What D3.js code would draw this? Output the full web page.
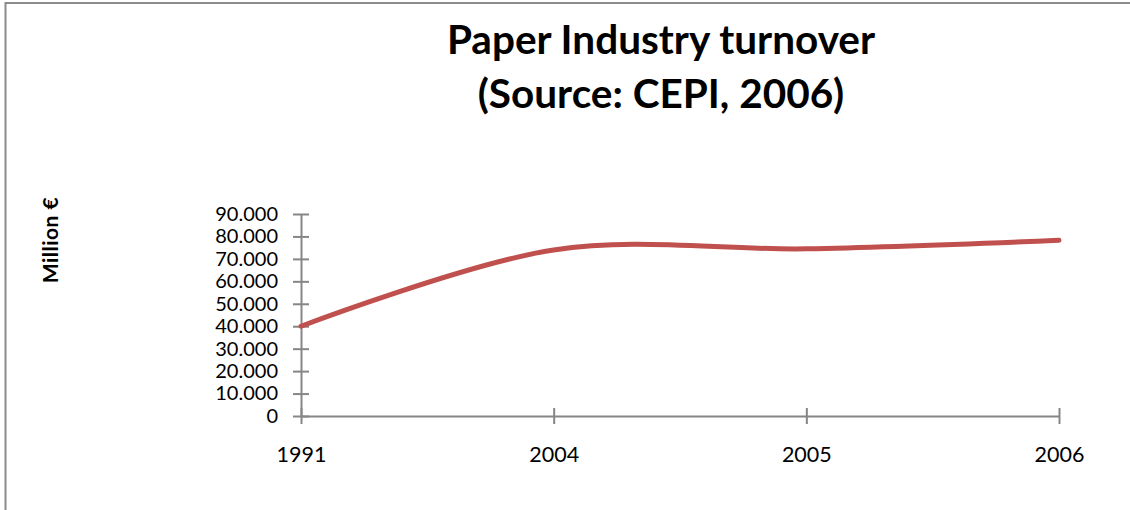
<!DOCTYPE html>
<html>
<head>
<meta charset="utf-8">
<script src="https://cdn.jsdelivr.net/npm/d3@7"></script>
<style>
  body { margin: 0; background: #fff; }
  svg { display: block; font-family: Lato, "Open Sans", sans-serif; }
</style>
</head>
<body>
<div id="chart"></div>
<script>
var years = ["1991", "2004", "2005", "2006"];
var turnover = [40000, 74000, 74500, 78300];
var yTicks = [0, 10000, 20000, 30000, 40000, 50000, 60000, 70000, 80000, 90000];
var titleLines = ["Paper Industry turnover", "(Source: CEPI, 2006)"];

var W = 1130, H = 510;
var margin = {top: 214, right: 71, bottom: 94, left: 301};
var width = W - margin.left - margin.right,
    height = H - margin.top - margin.bottom;

var svg = d3.select("#chart")
    .append("svg")
        .attr("width", W)
        .attr("height", H);

// chart frame (only left and top edges are visible in the crop)
svg.append("rect")
    .attr("x", 5.5)
    .attr("y", 3)
    .attr("width", W + 20)
    .attr("height", H + 20)
    .attr("fill", "none")
    .attr("stroke", "#8c8c8c")
    .attr("stroke-width", 2);

svg.append("text")
    .attr("x", 661)
    .attr("y", 54)
    .attr("text-anchor", "middle")
    .style("font-size", "40.5px")
    .style("font-weight", "bold")
    .selectAll("tspan")
    .data(titleLines)
    .enter()
    .append("tspan")
        .attr("x", 661)
        .attr("dy", function(d, i) { return i === 0 ? 0 : 54; })
        .text(function(d) { return d; });

var g = svg.append("g")
    .attr("transform", "translate(" + margin.left + "," + margin.top + ")");

var x = d3.scalePoint()
    .domain(years)
    .range([0, width]);

var y = d3.scaleLinear()
    .domain([0, 90000])
    .range([height, 0]);

var fmt = function(v) {
    return v === 0 ? "0" : d3.format(",")(v).replace(/,/g, ".");
};

var yAxis = g.append("g")
    .call(d3.axisLeft(y).tickValues(yTicks).tickFormat(fmt).tickSizeInner(8).tickSizeOuter(0).tickPadding(15));
yAxis.selectAll(".tick line").attr("x2", 8).attr("x1", -8);
yAxis.selectAll(".tick text").style("font-size", "20px");

var xAxis = g.append("g")
    .attr("transform", "translate(0," + height + ")")
    .call(d3.axisBottom(x).tickSizeInner(8).tickSizeOuter(0).tickPadding(23));
xAxis.selectAll(".tick line").attr("y1", -8).attr("y2", 8);
xAxis.selectAll(".tick text").style("font-size", "21.5px");

g.selectAll(".domain, .tick line")
    .attr("stroke", "#868686")
    .attr("stroke-width", 2);
g.selectAll(".tick text")
    .attr("fill", "#000")
    .style("font-family", "Lato, sans-serif");

svg.append("text")
    .attr("transform", "translate(58,240) rotate(-90)")
    .attr("text-anchor", "middle")
    .style("font-size", "21px")
    .style("font-weight", "bold")
    .style("letter-spacing", "0.5px")
    .text("Million  €");

var line = d3.line()
    .x(function(d, i) { return x(years[i]); })
    .y(function(d) { return y(d); })
    .curve(d3.curveCardinal.tension(0));

g.append("path")
    .datum(turnover)
    .attr("fill", "none")
    .attr("stroke", "#C0504D")
    .attr("stroke-width", 5)
    .attr("stroke-linecap", "round")
    .attr("d", line);
</script>
</body>
</html>
